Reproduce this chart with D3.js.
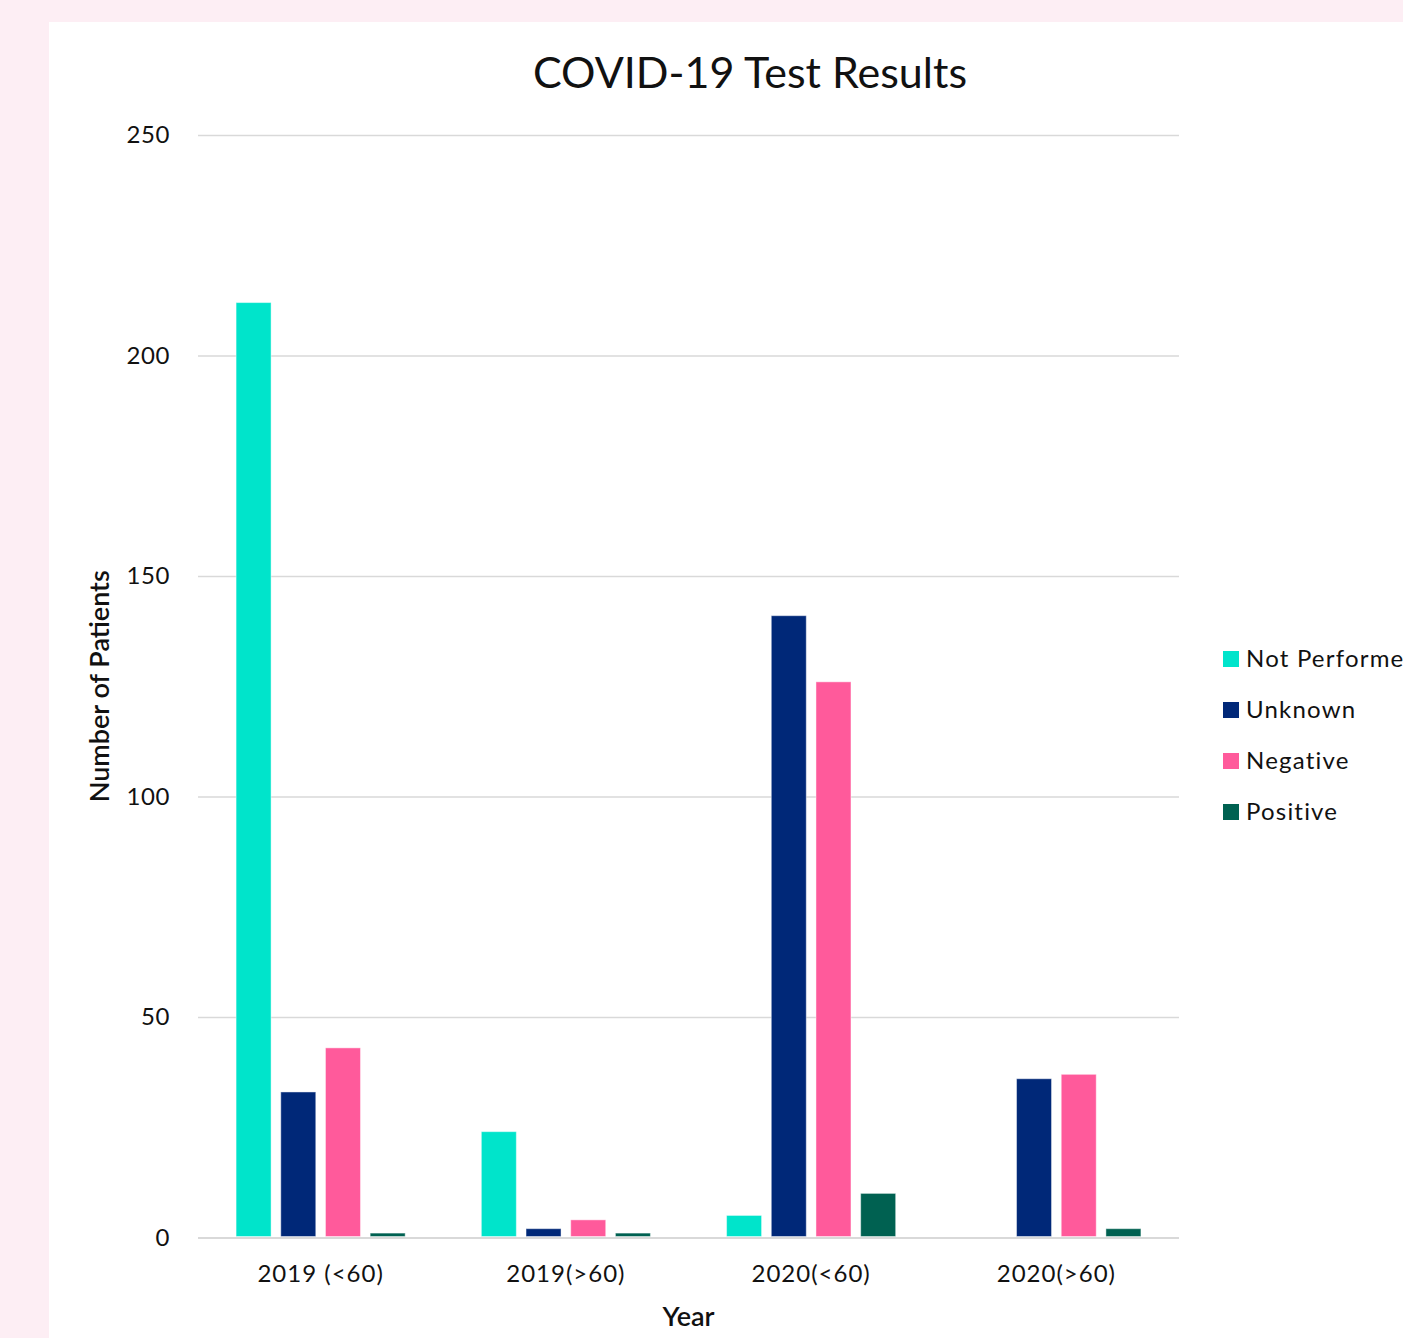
<!DOCTYPE html>
<html>
<head>
<meta charset="utf-8">
<script src="https://cdn.jsdelivr.net/npm/d3@7"></script>
<style>
  html, body { margin: 0; padding: 0; background: #fdeef4; overflow: hidden; }
  svg { display: block; }
  text { font-family: Lato, "Noto Sans", sans-serif; fill: #111; }
</style>
</head>
<body>
<svg id="chart" width="1403" height="1338"></svg>
<script>
// Patient counts per age/year group, one array per test outcome
const categories = ["2019 (<60)", "2019(>60)", "2020(<60)", "2020(>60)"];
const seriesNames = ["Not Performed", "Unknown", "Negative", "Positive"];
const notPerformed = [212, 24, 5, 0];
const unknown = [33, 2, 141, 36];
const negative = [43, 4, 126, 37];
const positive = [1, 1, 10, 2];
const yTicks = [0, 50, 100, 150, 200, 250];
const colors = ["#00e4cb", "#002878", "#ff5a9b", "#006151"];

const seriesValues = [notPerformed, unknown, negative, positive];
const rows = categories.map((c, i) => ({
  category: c,
  values: seriesNames.map((s, j) => ({ key: s, value: seriesValues[j][i] }))
}));

const svg = d3.select("#chart");

// white chart panel on the pink page
svg.append("rect")
  .attr("x", 49).attr("y", 22)
  .attr("width", 1403 - 49).attr("height", 1338 - 22)
  .attr("fill", "#ffffff");

const plot = { left: 198, right: 1179, top: 135, bottom: 1237.5 };

const y = d3.scaleLinear().domain([0, 250]).range([plot.bottom, plot.top]);

const x0 = d3.scaleBand()
  .domain(categories)
  .range([plot.left, plot.right])
  .paddingInner(0.271)
  .paddingOuter(0.1355);

const x1 = d3.scaleBand()
  .domain(seriesNames)
  .range([0, x0.bandwidth()])
  .paddingInner(0.217)
  .paddingOuter(0.1085);

const color = d3.scaleOrdinal().domain(seriesNames).range(colors);

// horizontal gridlines with value labels
const yAxis = d3.axisLeft(y)
  .tickValues(yTicks)
  .tickSize(-(plot.right - plot.left))
  .tickPadding(28)
  .tickFormat(d3.format("d"));

const gy = svg.append("g")
  .attr("transform", `translate(${plot.left},0)`)
  .call(yAxis);
gy.select(".domain").remove();
gy.selectAll(".tick line")
  .attr("stroke", "#d9d9d9")
  .attr("stroke-width", d => d === 0 ? 2.2 : 1.6);
gy.selectAll(".tick text")
  .attr("font-size", 24)
  .attr("fill", "#111")
  .attr("letter-spacing", 0.6)
  .style("font-family", "Lato, 'Noto Sans', sans-serif");

// clustered bars
const groups = svg.append("g")
  .selectAll("g")
  .data(rows)
  .join("g")
  .attr("transform", d => `translate(${x0(d.category)},0)`);

groups.selectAll("rect")
  .data(d => d.values)
  .join("rect")
  .attr("x", d => x1(d.key))
  .attr("y", d => y(d.value))
  .attr("width", x1.bandwidth())
  .attr("height", d => Math.max(0, y(0) - 1 - y(d.value)))
  .attr("fill", d => color(d.key))
  .attr("stroke", "rgba(255,255,255,0.45)")
  .attr("stroke-width", 1);

// category labels
const xAxis = d3.axisBottom(x0).tickSize(0).tickPadding(27);
const gx = svg.append("g")
  .attr("transform", `translate(0,${plot.bottom})`)
  .call(xAxis);
gx.select(".domain").remove();
gx.selectAll(".tick text")
  .attr("font-size", 24)
  .attr("fill", "#111")
  .attr("letter-spacing", 1)
  .style("font-family", "Lato, 'Noto Sans', sans-serif");

// title
svg.append("text")
  .attr("x", 750).attr("y", 88)
  .attr("text-anchor", "middle")
  .attr("font-size", 43)
  .text("COVID-19 Test Results");

// axis titles
svg.append("text")
  .attr("transform", `translate(109,${(plot.top + plot.bottom) / 2}) rotate(-90)`)
  .attr("text-anchor", "middle")
  .attr("font-size", 27)
  .attr("font-weight", 600)
  .text("Number of Patients");

svg.append("text")
  .attr("x", (plot.left + plot.right) / 2).attr("y", 1326)
  .attr("text-anchor", "middle")
  .attr("font-size", 27)
  .attr("font-weight", 600)
  .text("Year");

// legend
const legend = svg.append("g")
  .selectAll("g")
  .data(seriesNames)
  .join("g")
  .attr("transform", (d, i) => `translate(1223,${659 + i * 51})`);

legend.append("rect")
  .attr("x", 0).attr("y", -8)
  .attr("width", 16).attr("height", 16)
  .attr("fill", d => color(d));

legend.append("text")
  .attr("x", 23).attr("y", 0)
  .attr("dy", "0.35em")
  .attr("font-size", 24)
  .attr("letter-spacing", 1.2)
  .text(d => d);
</script>
</body>
</html>
